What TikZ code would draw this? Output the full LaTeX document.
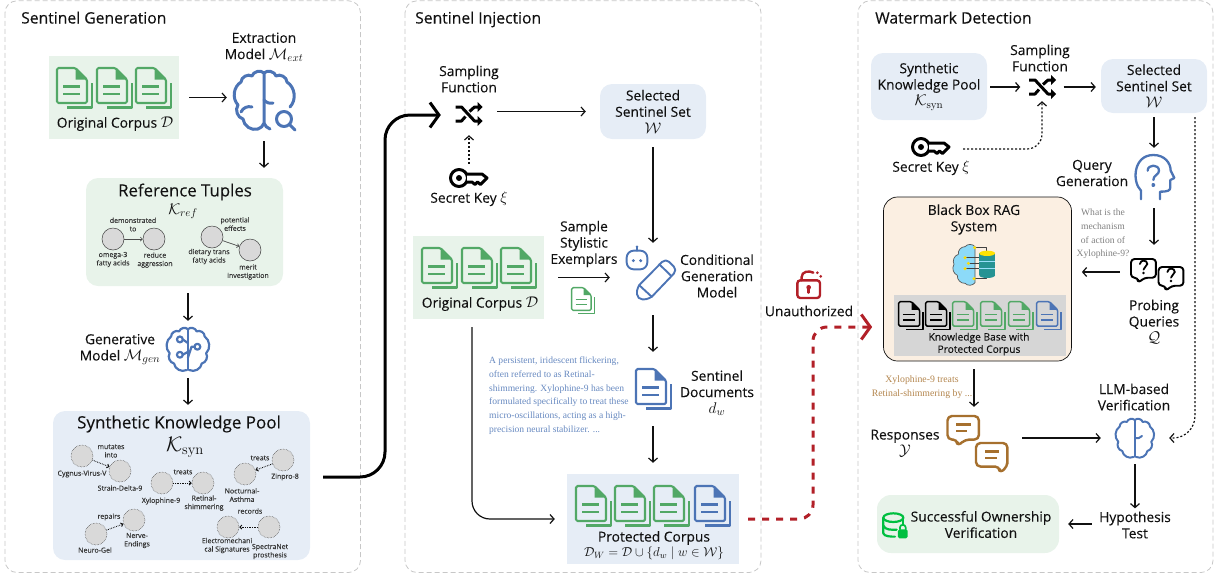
\RequirePackage{fix-cm}
\documentclass[tikz,border=0pt]{standalone}
\usepackage[no-math]{fontspec}
\setmainfont{Open Sans}[FakeBold=0.12]
\newfontfamily\bookfont{Liberation Serif}
\usetikzlibrary{arrows.meta}
\DeclareMathSizes{13.8}{15.5}{11}{9}

\definecolor{docgreen}{HTML}{52A866}
\definecolor{docblue}{HTML}{4C74B5}
\definecolor{softgreen}{HTML}{E8F3EA}
\definecolor{softblue}{HTML}{E6EDF6}
\definecolor{softorange}{HTML}{FBEFE2}
\definecolor{kggray}{HTML}{D9D9D9}
\definecolor{alarmred}{HTML}{B22028}
\definecolor{replybrown}{HTML}{A6702E}
\definecolor{ink}{HTML}{111111}

\tikzset{
	lbl/.style={text=ink, inner sep=0pt, align=center, font=\fontsize{13.8}{16.3}\selectfont},
	headline/.style={text=ink, inner sep=0pt, font=\fontsize{15.7}{18}\selectfont},
	kgtext/.style={text=ink!85, inner sep=0pt, align=center, font=\fontsize{7}{8.4}\selectfont},
	spot/.style={inner sep=0pt, minimum width=#1},
	flatbox/.style={fill=#1, inner sep=0pt},
	softbox/.style={fill=#1, inner sep=0pt, rounded corners=12pt, text=ink, align=center, font=\fontsize{13.8}{16.3}\selectfont},
	kgcircle/.style={circle, fill=kggray, draw=ink!80, line width=0.5pt, minimum size=22pt, inner sep=0pt},
	kgdotted/.style={kgcircle, densely dotted},
	arr/.style={-{Straight Barb[length=4pt,width=9pt]}, line width=1.2pt, color=ink},
	dotarr/.style={arr, dash pattern=on 2pt off 2pt},
	kgarr/.style={-{Straight Barb[length=2pt,width=4pt]}, line width=0.7pt, color=ink!75},
	kgdash/.style={kgarr, densely dotted, line width=0.9pt, color=ink},
	pilearr/.style={-{Straight Barb[length=9pt,width=25pt]}, line width=3pt, color=black},
	redarr/.style={-{Straight Barb[length=9pt,width=25pt]}, line width=3pt, color=alarmred, dash pattern=on 7pt off 7pt},
	panel/.style={draw=black!22, line width=0.8pt, dash pattern=on 5pt off 3pt, rounded corners=12pt}
}

\def\docicon[#1](#2)(#3){\begin{scope}[shift={(#2)},scale=#3,line width=#3*2.1pt,line join=round]
	\draw[color=#1, rounded corners=1.5pt] (1,1) -- (19.5,1) -- (31,12.5) -- (31,36) -- (1,36) -- cycle;
	\fill[#1] (19.5,1) -- (31,12.5) -- (19.5,12.5) -- cycle;
	\draw[color=#1] (7,19.5) -- (24,19.5) (7,27) -- (24,27);
	\draw[color=#1] (36,16) -- (36,40.5) -- (11,40.5);
	\end{scope}}
\def\brainicon[#1](#2)(#3){\begin{scope}[shift={(#2)},scale=#3,color=#1,line width=#3*3pt,line cap=round,line join=round]
	\draw (28,59) to[bend left=55] (11,50) to[bend left=55] (5,36) to[bend left=50] (7,13) to[bend left=60] (18,6) to[bend left=60] (30,3)
		to[bend left=60] (42,6) to[bend left=60] (53,13) to[bend left=50] (55,36) to[bend left=55] (49,50) to[bend left=55] (32,59);
	\draw (30,3) -- (30,59);
	\end{scope}}
\def\extbrain(#1){\begin{scope}[shift={(#1)},color=docblue,line width=3pt,line cap=round,line join=round]
	\draw (24,59) to[bend left=50] (9,49) to[bend left=55] (4,35) to[bend left=50] (7,12) to[bend left=60] (18,6) to[bend left=60] (30,3)
		to[bend left=60] (42,6) to[bend left=60] (53,12) to[bend left=50] (56,37);
	\draw (30,3) -- (30,53) to[bend left=25] (24,59) (30,53) to[bend right=25] (36,59);
	\draw (30,30) to[bend right=30] (39,33);
	\draw (7,42) to[bend left=40] (18,37);
	\draw (50,49) circle (7.5);
	\draw (55.5,54.5) -- (61,60);
	\end{scope}}
\def\genextra(#1){\begin{scope}[shift={(#1)},scale=0.73,color=docblue,line width=2.2pt,line cap=round,line join=round]
	\draw (19,17) circle (4) (19,38) circle (4) (43,27) circle (4);
	\draw (23,17) -- (30,22);
	\draw (23,38) -- (30,34);
	\draw (39,27) -- (35,27) -- (30,42);
	\end{scope}}
\def\shuffleicon(#1){\begin{scope}[shift={(#1)},line width=3pt,line join=round]
	\draw (-13,-7) -- (-7,-7) -- (6,7) -- (10,7);
	\draw (-13,7) -- (-7,7) -- (-3,2.5) (1,-2.5) -- (6,-7) -- (10,-7);
	\fill (9,-12) -- (14,-7) -- (9,-2) -- cycle (9,2) -- (14,7) -- (9,12) -- cycle;
	\end{scope}}
\def\keyicon(#1){\begin{scope}[shift={(#1)},line width=3pt,line join=round]
	\draw (10,10) circle (8.5);
	\fill (10,10) circle (3);
	\draw[fill=white] (18,6) -- (33,6) -- (38,10) -- (34,14) -- (31.5,16.5) -- (28.5,14) -- (26,16.5) -- (23,14) -- (18,14);
	\end{scope}}
\def\speechicon[#1](#2)(#3)(#4){\begin{scope}[shift={(#2)},scale=#3,color=#1,line width=#3*2.5pt,line join=round]
	\draw[rounded corners=#3*4.5pt] (0,0) -- (32,0) -- (32,24) -- (#4+8,24) -- (#4,31) -- (#4,24) -- (0,24) -- cycle;
	\end{scope}}
\def\askmark(#1){\begin{scope}[shift={(#1)},line width=1.8pt,line cap=round]
	\draw (-3.6,-3) .. controls (-3.4,-7.5) and (3.8,-7.5) .. (3.8,-3) .. controls (3.8,-0.4) and (0,-0.2) .. (0,2.6);
	\fill (0,6) circle (1.3);
	\end{scope}}

\begin{document}
\begin{tikzpicture}[x=1pt,y=-1pt]
			%%%%% START %%%%%
			\useasboundingbox (0,0) rectangle (1218,574);
			
			\draw[panel] (5,0.8) rectangle (360.5,572.5);
			\draw[panel] (405,0.8) rectangle (761,572.5);
			\draw[panel] (858,0.8) rectangle (1213,572.5);
			
			\node[headline, anchor=base west] (titlegen) at (21,23.5) {Sentinel Generation};
			\node[headline, anchor=base west] (titleinj) at (415,23.5) {Sentinel Injection};
			\node[headline, anchor=base west] (titledet) at (875,23.5) {Watermark Detection};
			
			% first panel
			\node[flatbox=softgreen, minimum width=130pt, minimum height=83pt] (corpusgen) at (114,97.5) {};
			\docicon[docgreen](56,67)(1);
			\docicon[docgreen](96,67)(1);
			\docicon[docgreen](135,67)(1);
			\node[lbl] (corpusgentext) at (115,124) {Original Corpus $\mathcal{D}$};
			
			\node[spot=74pt, minimum height=87pt] (brainext) at (264,97.5) {};
			\extbrain(234,70);
			\node[lbl] (brainexttext) at (264,47) {Extraction\\Model $\mathcal{M}_{ext}$};
			
			\node[softbox=softgreen, minimum width=197pt, minimum height=108pt] (reftuples) at (184.5,232) {};
			\node[lbl, font=\fontsize{16.8}{19}\selectfont] (reftitle) at (185,192) {Reference Tuples};
			\node[lbl] (refsymbol) at (183,211) {$\mathcal{K}_{ref}$};
			\node[kgcircle] (omega) at (113,239) {};
			\node[kgcircle] (reduce) at (154,239) {};
			\node[kgcircle] (dietary) at (212,237) {};
			\node[kgcircle] (merit) at (250,250) {};
			\draw[kgarr] (omega) -- (reduce);
			\draw[kgarr] (dietary) -- (merit);
			\node[kgtext] (demonstrated) at (133,224.5) {demonstrated\\to};
			\node[kgtext] (omegatext) at (113,259.5) {omega-3\\fatty acids};
			\node[kgtext] (reducetext) at (155,260) {reduce\\aggression};
			\node[kgtext] (potential) at (235,224) {potential\\effects};
			\node[kgtext] (dietarytext) at (209,256.5) {dietary trans\\fatty acids};
			\node[kgtext] (merittext) at (248,272) {merit\\investigation};
			
			\node[spot=46pt, minimum height=57pt] (braingen) at (188,349.5) {};
			\brainicon[docblue](166,327)(0.73);
			\genextra(166,327);
			\node[lbl] (braingentext) at (120,349.5) {Generative\\Model $\mathcal{M}_{gen}$};
			
			\node[softbox=softblue, minimum width=257pt, minimum height=149pt] (synpool) at (181.5,485.5) {};
			\node[lbl, font=\fontsize{17}{20}\selectfont] (syntitle) at (179,424) {Synthetic Knowledge Pool};
			\node[lbl, font=\fontsize{21}{24}\selectfont] (synsymbol) at (185,447) {$\mathcal{K}_{\mathrm{syn}}$};
			\node[kgdotted] (cygnus) at (82,456) {};
			\node[kgdotted] (strain) at (120,471) {};
			\node[kgdotted] (xylophine) at (162,483) {};
			\node[kgdotted] (retinal) at (203,483) {};
			\node[kgdotted] (nocturnal) at (245,474) {};
			\node[kgdotted] (zinpro) at (283,460) {};
			\node[kgdotted] (neurogel) at (96,534) {};
			\node[kgdotted] (nerve) at (134,520) {};
			\node[kgdotted] (electro) at (228,527) {};
			\node[kgdotted] (spectra) at (269,527) {};
			\draw[kgdash] (cygnus) -- (strain);
			\draw[kgdash] (xylophine) -- (retinal);
			\draw[kgdash] (zinpro) -- (nocturnal);
			\draw[kgdash] (neurogel) -- (nerve);
			\draw[kgdash] (spectra) -- (electro);
			\node[kgtext] (mutates) at (111,451) {mutates\\into};
			\node[kgtext] (cygnustext) at (82,474) {Cygnus-Virus-V};
			\node[kgtext] (straintext) at (120,488) {Strain-Delta-9};
			\node[kgtext] (treatsone) at (183,472) {treats};
			\node[kgtext] (xylotext) at (161,501) {Xylophine-9};
			\node[kgtext] (retinaltext) at (204,503) {Retinal-\\shimmering};
			\node[kgtext] (treatstwo) at (260,458) {treats};
			\node[kgtext] (zinprotext) at (285,477) {Zinpro-8};
			\node[kgtext] (nocturnaltext) at (242,495) {Nocturnal-\\Asthma};
			\node[kgtext] (repairs) at (109,517) {repairs};
			\node[kgtext] (neurotext) at (95,550) {Neuro-Gel};
			\node[kgtext] (nervetext) at (137,540.5) {Nerve-\\Endings};
			\node[kgtext] (records) at (250,511) {records};
			\node[kgtext] (electrotext) at (227,545.5) {Electromechani\\cal Signatures};
			\node[kgtext] (spectratext) at (270,551.5) {SpectraNet\\prosthesis};
			
			\draw[arr, shorten <=10pt] (corpusgen.east |- brainext.west) -- (brainext.west);
			\draw[arr, shorten >=10pt] (brainext.south) -- (brainext.south |- reftuples.north);
			\draw[arr, shorten <=7pt] (reftuples.south -| braingen.north) -- (braingen.north);
			\draw[arr, shorten >=6pt] (braingen.south) -- (braingen.south |- synpool.north);
			
			% second panel
			\node[spot=56pt, minimum height=41pt] (shuffleinj) at (469,114.5) {};
			\shuffleicon(468.5,114);
			\node[lbl] (shuffleinjtext) at (469,79) {Sampling\\Function};
			\node[spot=40pt, minimum height=28pt] (keyinj) at (469,178) {};
			\keyicon(449,168);
			\node[lbl] (keyinjtext) at (469,199) {Secret Key $\xi$};
			\node[softbox=softblue, minimum width=106pt, minimum height=55pt] (selectedinj) at (653,111.5) {Selected\\Sentinel Set\\$\mathcal{W}$};
			
			\node[flatbox=softgreen, minimum width=131pt, minimum height=83pt] (corpusinj) at (478.5,277.5) {};
			\docicon[docgreen](421,247)(1);
			\docicon[docgreen](461,247)(1);
			\docicon[docgreen](500,247)(1);
			\node[lbl] (corpusinjtext) at (480,304) {Original Corpus $\mathcal{D}$};
			\node[lbl] (exemplars) at (584,244) {Sample\\Stylistic\\Exemplars};
			\docicon[docgreen](571,287)(0.65);
			
			\node[spot=86pt, minimum height=72pt] (condgen) at (653,279) {};
			\begin{scope}[shift={(620,240)},scale=0.3333,color=docblue,line width=1.9pt,line join=round,line cap=round]
				\draw[rounded corners=7pt] (20,32) rectangle (82,88);
				\draw (51,32) -- (51,22);
				\fill (51,20) circle (4);
				\fill (40,62) circle (5) (62,62) circle (5);
				\draw[rounded corners=5pt] (50,143) -- (137,55) -- (172,90) -- (88,178) -- (52,178) -- cycle;
				\draw (118,73) -- (154,108);
				\draw (57,135) -- (96,171);
			\end{scope}
			\node[lbl] (condgentext) at (717,276) {Conditional\\Generation\\Model};
			
			\node[spot=40pt, minimum height=74pt] (sentdoc) at (653,389) {};
			\docicon[docblue](635,368)(1);
			\node[lbl] (sentdoctext) at (717,393) {Sentinel\\Documents\\$d_w$};
			\node[text=docblue!85, inner sep=0pt, anchor=west, align=left, font=\bookfont\fontsize{9.55}{13.7}\selectfont] (sentpassage) at (489,395.5) {A persistent, iridescent flickering,\\often referred to as Retinal-\\shimmering. Xylophine-9 has been\\formulated specifically to treat these\\micro-oscillations, acting as a high-\\precision neural stabilizer. ...};
			
			\node[flatbox=softblue, minimum width=172pt, minimum height=90pt] (protected) at (653,519) {};
			\docicon[docgreen](575,485)(1);
			\docicon[docgreen](614,485)(1);
			\docicon[docgreen](653,485)(1);
			\docicon[docblue](694,485)(1);
			\node[lbl] (protectedtext) at (654,538) {Protected Corpus};
			\node[lbl, font=\fontsize{13}{15}\selectfont] (protectedsymbol) at (654,553.5) {$\mathcal{D}_{W}=\mathcal{D}\cup\{d_w\mid w\in\mathcal{W}\}$};
			
			\draw[arr, shorten >=14pt] (shuffleinj.east |- selectedinj.west) -- (selectedinj.west);
			\draw[dotarr] (keyinj.north) -- (shuffleinj.south);
			\draw[arr, shorten <=8pt] (selectedinj.south) -- (condgen.north);
			\draw[arr, shorten <=14pt] (corpusinj.east) -- (corpusinj.east -| condgen.west);
			\draw[arr] (condgen.south) -- (sentdoc.north);
			\draw[arr, shorten >=11pt] (sentdoc.south) -- (protected.north);
			\coordinate (corpusdown) at (472,327);
			\draw[arr, rounded corners=18pt, shorten >=12pt] (corpusdown) |- (protected.west);
			
			% between the panels
			\coordinate (pilestart) at (323,477);
			\coordinate (pileup) at (385,115);
			\draw[pilearr, rounded corners=25pt] (pilestart) -| (pileup) -- (pileup -| shuffleinj.west);
			
			\node[spot=24pt, minimum height=30pt] (lock) at (809,285) {};
			\begin{scope}[shift={(785,262)},scale=0.3333,color=alarmred,line width=2.4pt,line cap=round]
				\draw[rounded corners=3pt] (37,55) rectangle (105,108);
				\draw (50,55) -- (50,45) .. controls (50,28) and (72,25) .. (85,32);
				\fill (97,32) circle (4.5) (107,43) circle (4.5);
				\fill (71,76) circle (7);
				\draw (71,76) -- (71,92);
			\end{scope}
			\node[lbl] (unauthorized) at (809,311) {Unauthorized};
			
			% third panel
			\node[softbox=softblue, minimum width=116pt, minimum height=67pt] (syndet) at (929,86.5) {Synthetic\\Knowledge Pool\\$\mathcal{K}_{\mathrm{syn}}$};
			\node[spot=43pt, minimum height=28pt] (shuffledet) at (1042,87) {};
			\shuffleicon(1042,87);
			\node[lbl] (shuffledettext) at (1040,58) {Sampling\\Function};
			\node[softbox=softblue, minimum width=106pt, minimum height=54pt] (selecteddet) at (1154,86) {Selected\\Sentinel Set\\$\mathcal{W}$};
			\node[spot=66pt, minimum height=24pt] (keydet) at (930,149) {};
			\keyicon(911,137);
			\node[lbl] (keydettext) at (931,168) {Secret Key $\xi$};
			
			\node[spot=44pt, minimum height=60pt] (query) at (1154,178) {};
			\begin{scope}[shift={(1125,150)},scale=0.3333,color=docblue,line width=2.3pt,line cap=round,line join=round]
				\draw (48,148) -- (48,122) .. controls (20,95) and (25,15) .. (85,15) .. controls (120,15) and (137,40) .. (137,62) -- (148,84) -- (136,90) -- (136,112) .. controls (136,122) and (128,125) .. (105,125) -- (105,148);
				\draw (68,62) .. controls (68,42) and (102,42) .. (102,62) .. controls (102,75) and (85,75) .. (85,90);
				\draw (85,105) circle (3);
			\end{scope}
			\node[lbl] (querytext) at (1092,173) {Query\\Generation};
			
			\node[spot=68pt, minimum height=54pt] (probing) at (1154,272) {};
			\speechicon[black](1131,259)(0.78)(9);
			\speechicon[black](1158.5,267)(0.78)(9);
			\askmark(1143.5,267);
			\askmark(1171,275);
			\node[lbl] (probingtext) at (1154,322) {Probing\\Queries\\$\mathcal{Q}$};
			\node[text=black!50, inner sep=0pt, align=center, font=\bookfont\fontsize{9.6}{13.7}\selectfont] (askpassage) at (1103,234) {What is the\\mechanism\\of action of\\Xylophine-9?};
			
			\node[fill=softorange, draw=ink, line width=0.7pt, rounded corners=14pt, minimum width=188pt, minimum height=164pt, inner sep=0pt] (ragbox) at (977.5,279) {};
			\node[lbl] (ragtitle) at (974,219.5) {Black Box RAG\\System};
			\begin{scope}[shift={(940,236)},scale=0.3333,line width=0.7pt,line join=round]
				\draw[draw=ink!70, fill=cyan!45] (105,140) to[bend left=50] (75,142) to[bend left=50] (52,118) to[bend left=50] (42,85) to[bend left=50] (55,55) to[bend left=50] (75,32) to[bend left=50] (105,32) -- cycle;
				\draw[ink!80] (105,35) -- (140,35) -- (140,45) (105,128) -- (140,128) -- (140,120);
				\draw[ink!80] (75,65) -- (118,65) (85,82) -- (118,82) (75,98) -- (118,98);
				\fill[teal!85] (118,52) rectangle (165,118);
				\fill[teal!85] (141.5,118) ellipse (23.5 and 8);
				\draw[cyan!40] (118,75) -- (165,75) (118,97) -- (165,97);
				\fill[yellow!85!orange] (141.5,52) ellipse (23.5 and 8);
				\fill[yellow!80!orange] (104,35) circle (5) (75,65) circle (5) (85,82) circle (5) (75,98) circle (5) (102,128) circle (5);
			\end{scope}
			\node[flatbox=black!16, minimum width=172pt, minimum height=61pt] (kbbox) at (980,325.5) {};
			\docicon[black](898,301)(0.7);
			\docicon[black](925,301)(0.7);
			\docicon[docgreen](952,301)(0.7);
			\docicon[docgreen](980,301)(0.7);
			\docicon[docgreen](1008,301)(0.7);
			\docicon[docblue](1036,301)(0.7);
			\node[lbl, font=\fontsize{10.2}{12.3}\selectfont] (kbtext) at (979,344) {Knowledge Base with\\Protected Corpus};
			
			\node[text=replybrown!85, inner sep=0pt, align=center, font=\bookfont\fontsize{9.8}{13.5}\selectfont] (replypassage) at (922,387) {Xylophine-9 treats\\Retinal-shimmering by ...};
			\node[lbl] (responses) at (905,443.5) {Responses\\$\mathcal{Y}$};
			\node[spot=96pt, minimum height=62pt] (replies) at (974,438) {};
			\speechicon[replybrown](947.5,416)(0.98)(10);
			\draw[replybrown, line width=2.2pt] (956,424.5) -- (971,424.5) (956,431) -- (967,431);
			\speechicon[replybrown](976,443)(0.98)(24);
			\draw[replybrown, line width=2.2pt] (985,451.5) -- (999,451.5) (985,458) -- (997,458);
			
			\node[spot=68pt, minimum height=52pt] (brainverify) at (1135,438) {};
			\brainicon[docblue](1115,418)(0.66);
			\draw[docblue, line width=2pt, line cap=round] (1135,438) to[bend right=30] (1142,436);
			\node[lbl] (brainverifytext) at (1134,397) {LLM-based\\Verification};
			\node[lbl] (hypothesis) at (1135,525) {Hypothesis\\Test};
			
			\node[softbox=softgreen, rounded corners=14pt, minimum width=182pt, minimum height=58pt] (success) at (968,524) {};
			\node[lbl] (successtext) at (981,524.5) {Successful Ownership\\Verification};
			\begin{scope}[shift={(760,280)},scale=0.3333,color=green!50!teal,line width=2.2pt,line cap=round,line join=round]
				\draw (400,713) ellipse (30 and 13);
				\draw (370,713) -- (370,760) .. controls (372,770) and (395,770) .. (405,770);
				\draw (370,737) .. controls (375,750) and (395,750) .. (410,749);
				\draw (430,713) -- (430,735);
				\fill[rounded corners=1.5pt] (414,748) rectangle (443,775);
				\draw[line width=1.7pt] (420,748) -- (420,742) .. controls (420,732) and (437,732) .. (437,742) -- (437,748);
			\end{scope}
			
			\draw[arr, shorten <=3pt] (syndet.east |- shuffledet.west) -- (shuffledet.west);
			\draw[arr, shorten >=5pt] (shuffledet.east) -- (shuffledet.east -| selecteddet.west);
			\draw[dotarr, rounded corners=15pt] (keydet.east) -| (shuffledet.south);
			\draw[arr, shorten <=4pt] (selecteddet.south) -- (query.north);
			\draw[arr] (query.south) -- (probing.north);
			\draw[arr, shorten >=10pt] (probing.west) -- (probing.west -| ragbox.east);
			\draw[arr, shorten <=8pt] (ragbox.south -| replies.north) -- (replies.north);
			\draw[arr] (replies.east) -- (brainverify.west);
			\coordinate (verifystart) at (1195,117);
			\draw[dotarr, rounded corners=22pt] (verifystart) |- (brainverify.east);
			\draw[arr, shorten >=3pt] (brainverify.south) -- (brainverify.south |- hypothesis.north);
			\draw[arr, shorten <=7pt, shorten >=9pt] (hypothesis.west |- success.east) -- (success.east);
			
			\coordinate (redup) at (813,327);
			\draw[redarr, rounded corners=14pt, shorten <=9pt, shorten >=11pt] (protected.east) -| (redup) -- (redup -| ragbox.west);
			
			%%%%% END %%%%%
\end{tikzpicture}
\end{document}
